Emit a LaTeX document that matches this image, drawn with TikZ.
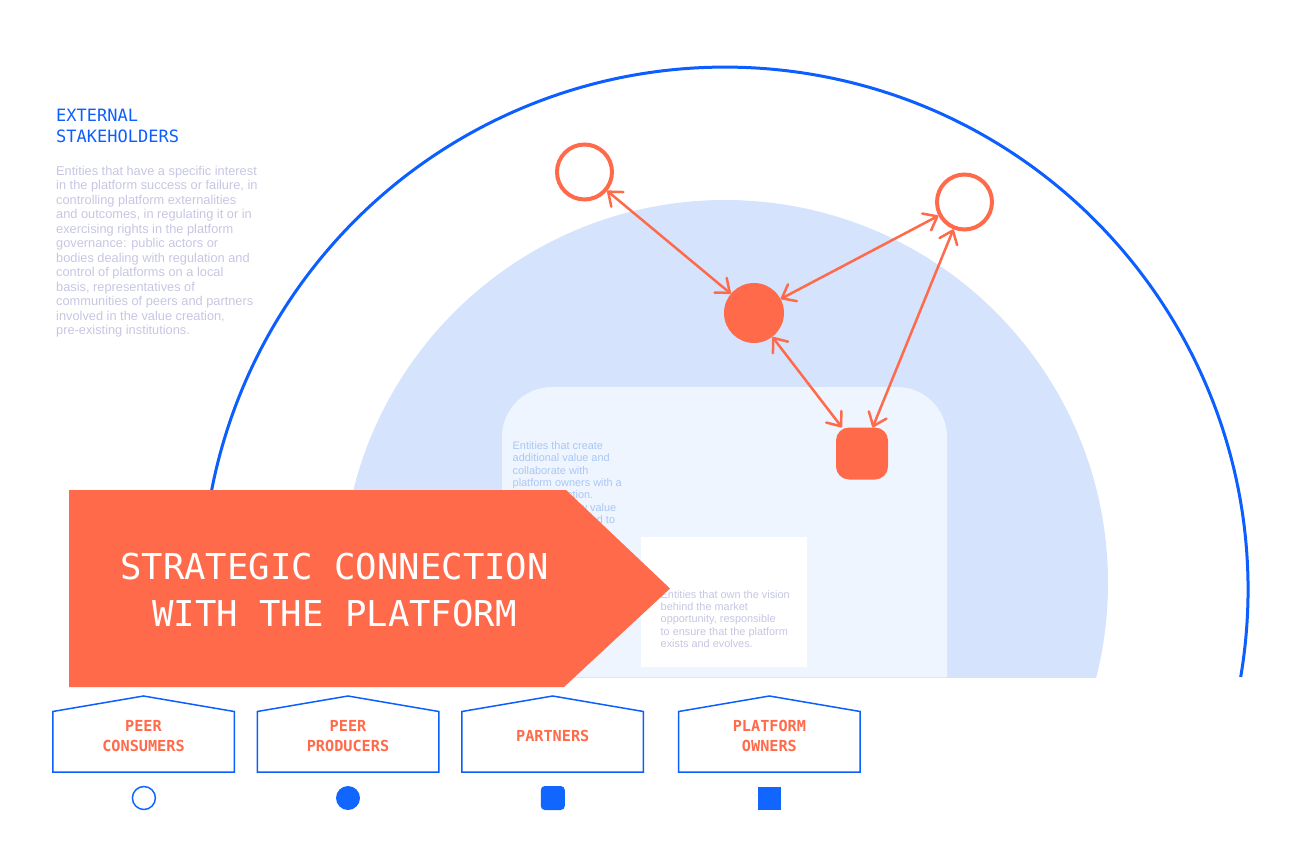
\documentclass[tikz,border=0pt]{standalone}
\usepackage{fontspec}
\setmainfont{Liberation Sans}
\newfontfamily\monofont{DejaVu Sans Mono}
\usetikzlibrary{arrows.meta, positioning, calc}

\definecolor{brandblue}{HTML}{0D5EFF}
\definecolor{iconblue}{HTML}{1166FF}
\definecolor{coral}{HTML}{FF6A4A}
\definecolor{diskblue}{HTML}{D5E4FC}
\definecolor{paleblue}{HTML}{EFF5FE}
\definecolor{lavender}{HTML}{C6C6E3}
\definecolor{softblue}{HTML}{A9C7F6}

\begin{document}
\begin{tikzpicture}[
            x=1pt, y=-1pt,
            ring_line/.style={draw=brandblue, line width=3pt},
            head_text/.style={anchor=north west, inner sep=0pt, align=left, text=brandblue, font=\monofont\fontsize{17}{21}\selectfont},
            body_text/.style={anchor=north west, inner sep=0pt, align=left, text=lavender, font=\fontsize{12.8}{14.5}\selectfont},
            small_text/.style={anchor=north west, inner sep=0pt, align=left, font=\fontsize{10.9}{12.3}\selectfont},
            banner_text/.style={inner sep=0pt, align=center, text=white, font=\monofont\fontsize{35.6}{47}\selectfont},
            ext_node/.style={circle, draw=coral, line width=4pt, minimum size=55pt, inner sep=0pt},
            producer_node/.style={circle, fill=coral, minimum size=60pt, inner sep=0pt},
            partner_node/.style={rectangle, rounded corners=13pt, fill=coral, minimum size=52pt, inner sep=0pt},
            link/.style={draw=coral, line width=2.5pt, {Straight Barb[length=12pt,width=19pt,round]}-{Straight Barb[length=12pt,width=19pt,round]}},
            house_label/.style={inner sep=0pt, align=center, text=coral, font=\monofont\bfseries\fontsize{15.2}{20}\selectfont},
            house_line/.style={draw=brandblue, line width=1.5pt, line join=miter},
            icon_open/.style={circle, draw=iconblue, line width=1.5pt, minimum size=23pt, inner sep=0pt},
            icon_dot/.style={circle, fill=iconblue, minimum size=24pt, inner sep=0pt},
            icon_round/.style={rectangle, rounded corners=4pt, fill=iconblue, minimum size=24pt, inner sep=0pt},
            icon_square/.style={rectangle, fill=iconblue, minimum size=23pt, inner sep=0pt}
        ]
        \useasboundingbox (0,0) rectangle (1307,851);

        % Hintergrund: Ring, Scheibe, Felder
        \draw [ring_line] (1240.7,677) arc[start angle=9.57, end angle=-180, radius=523];
        \begin{scope}
            \clip (0,0) rectangle (1307,677);
            \fill [diskblue] (725,583) circle[radius=383];
        \end{scope}
        \fill [paleblue, rounded corners=50pt] (502,677) -- (502,387) -- (947,387) -- (947,677);
        \fill [white] (641,537) rectangle (807,667);

        % Texte
        \node (exthead) [head_text] at (56,109) {EXTERNAL\\STAKEHOLDERS};
        \node (extinfo) [body_text] at (56,166) {Entities that have a specific interest\\in the platform success or failure, in\\controlling platform externalities\\and outcomes, in regulating it or in\\exercising rights in the platform\\governance: public actors or\\bodies dealing with regulation and\\control of platforms on a local\\basis, representatives of\\communities of peers and partners\\involved in the value creation,\\pre-existing institutions.};
        \node (partnerinfo) [small_text, text=softblue] at (512.5,441.5) {Entities that create\\additional value and\\collaborate with\\platform owners with a\\shared direction.\\They bring new value\\and are committed to\\the platform growth.};
        \node (ownerinfo) [small_text, text=lavender] at (660.5,590) {Entities that own the vision\\behind the market\\opportunity, responsible\\to ensure that the platform\\exists and evolves.};

        % Netzwerk
        \node (extleft) [ext_node] at (584.5,172) {};
        \node (extright) [ext_node] at (964.5,202) {};
        \node (producer) [producer_node] at (754,313) {};
        \node (partner) [partner_node] at (862,453.5) {};

        \draw [link] (extleft) -- (producer);
        \draw [link] (extright) -- (producer);
        \draw [link] (producer) -- (partner);
        \draw [link] (partner) -- (extright);

        % Banner
        \fill [coral] (69,490) -- (566,490) -- (670,588.5) -- (564,687) -- (69,687) -- cycle;
        \node (banner) [banner_text] at (334.5,590.5) {STRATEGIC CONNECTION\\WITH THE PLATFORM};

        % Legende
        \node (consumers) [house_label] at (143.5,736) {PEER\\CONSUMERS};
        \node (producers) [house_label] at (348,736) {PEER\\PRODUCERS};
        \node (partners) [house_label] at (552.7,736) {PARTNERS};
        \node (owners) [house_label] at (769.4,736) {PLATFORM\\OWNERS};
        \foreach \h in {consumers,producers,partners,owners}
            \draw [house_line] ($(\h)+(-90.75,36)$) -- ++(0,-60.5) -- ++(90.75,-15.5) -- ++(90.75,15.5) -- ++(0,60.5) -- cycle;

        \node (consumersicon) [icon_open] at (143.9,798) {};
        \node (producersicon) [icon_dot] at (348,798) {};
        \node (partnersicon) [icon_round] at (552.8,798) {};
        \node (ownersicon) [icon_square] at (769.5,798) {};

    \end{tikzpicture}
\end{document}
